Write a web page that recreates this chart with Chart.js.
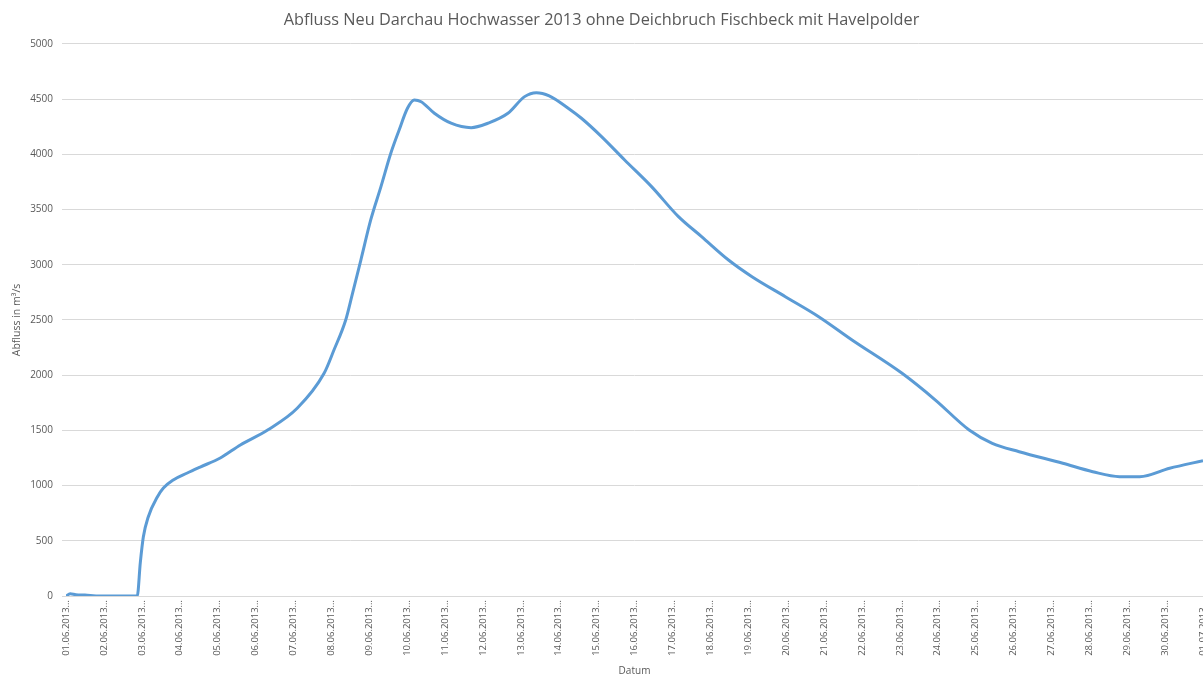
<!DOCTYPE html>
<html>
<head>
<meta charset="utf-8">
<script src="https://cdn.jsdelivr.net/npm/chart.js@4"></script>
<style>
    html, body { margin: 0; padding: 0; background: #fff; }
    #wrap { width: 1203px; height: 677px; }
</style>
</head>
<body>
<div id="wrap"><canvas id="abflussChart" width="1203" height="677"></canvas></div>
<script>
// Datumsbeschriftungen der x-Achse (ein Eintrag pro Tag)
const dateLabels = [
    '01.06.2013', '02.06.2013', '03.06.2013', '04.06.2013', '05.06.2013', '06.06.2013',
    '07.06.2013', '08.06.2013', '09.06.2013', '10.06.2013', '11.06.2013', '12.06.2013',
    '13.06.2013', '14.06.2013', '15.06.2013', '16.06.2013', '17.06.2013', '18.06.2013',
    '19.06.2013', '20.06.2013', '21.06.2013', '22.06.2013', '23.06.2013', '24.06.2013',
    '25.06.2013', '26.06.2013', '27.06.2013', '28.06.2013', '29.06.2013', '30.06.2013',
    '01.07.2013'
];

// Zeitpunkt in Tagen ab 01.06.2013 00:00
const dayOffsets = [
    0, 0.11, 0.26, 0.5, 0.9, 1.88, 1.96, 2.04, 2.17, 2.41, 2.57, 2.83,
    3.2, 3.54, 4.07, 4.6, 5.32, 6.1, 6.81, 7.07, 7.38, 7.56, 7.78, 8.04,
    8.31, 8.57, 8.79, 9.01, 9.19, 9.37, 9.72, 10.16, 10.69, 11.13, 11.66, 12.1,
    12.41, 12.75, 13.25, 13.6, 14.13, 14.74, 15.45, 16.16, 16.77, 17.48, 18.1, 18.98,
    19.86, 20.74, 22.06, 22.94, 23.83, 24.44, 25.15, 26.3, 27.09, 27.8, 28.33, 29.12,
    30
];

// Abfluss in m³/s
const discharge = [
    0, 20, 12, 8, 0, 0, 300, 534, 716, 897, 978, 1051,
    1114, 1168, 1250, 1368, 1504, 1700, 2017, 2228, 2500, 2742, 3043, 3406,
    3708, 4010, 4221, 4418, 4493, 4477, 4372, 4282, 4242, 4282, 4372, 4523,
    4559, 4530, 4418, 4327, 4161, 3949, 3708, 3436, 3255, 3043, 2892, 2711,
    2530, 2319, 2017, 1775, 1504, 1383, 1307, 1202, 1126, 1081, 1081, 1157,
    1226
];

const textColor = '#595959';
const gridColor = '#d9d9d9';
const fontFamily = '"Open Sans", "DejaVu Sans", sans-serif';

const ctx = document.getElementById('abflussChart').getContext('2d');

new Chart(ctx, {
    type: 'line',
    data: {
        datasets: [{
            label: 'Abfluss',
            data: dayOffsets.map((d, i) => ({ x: d, y: discharge[i] })),
            borderColor: '#5b9bd5',
            borderWidth: 3,
            pointRadius: 0,
            cubicInterpolationMode: 'monotone',
            fill: false
        }]
    },
    options: {
        responsive: false,
        animation: false,
        layout: {
            padding: { left: 0, right: 0, top: 0, bottom: 0 }
        },
        plugins: {
            legend: { display: false },
            tooltip: { enabled: false },
            title: {
                display: true,
                text: 'Abfluss Neu Darchau Hochwasser 2013 ohne Deichbruch Fischbeck mit Havelpolder',
                color: textColor,
                font: { family: fontFamily, size: 16.3, weight: 'normal' },
                padding: { top: 10.2, bottom: 14.2 }
            }
        },
        scales: {
            x: {
                type: 'linear',
                min: 0,
                max: 30,
                afterFit(scale) {
                    scale.height = 81;
                    scale.paddingLeft = 0;
                    scale.paddingRight = 0;
                },
                afterBuildTicks(scale) {
                    scale.ticks = dateLabels.map((_, i) => ({ value: i }));
                },
                ticks: {
                    autoSkip: false,
                    maxRotation: 90,
                    minRotation: 90,
                    padding: 4,
                    color: textColor,
                    font: { family: fontFamily, size: 9.5 },
                    callback: (value) => dateLabels[value] + '…'
                },
                grid: {
                    display: false,
                    drawTicks: false
                },
                border: {
                    display: true,
                    color: gridColor,
                    width: 1
                },
                title: {
                    display: true,
                    text: 'Datum',
                    color: textColor,
                    font: { family: fontFamily, size: 10 },
                    padding: { top: 0, bottom: 0 }
                }
            },
            y: {
                min: 0,
                max: 5000,
                afterFit(scale) {
                    scale.width = 66;
                    scale.paddingTop = 0;
                    scale.paddingBottom = 0;
                },
                ticks: {
                    stepSize: 500,
                    padding: 9,
                    color: textColor,
                    font: { family: fontFamily, size: 10 },
                    callback: (value) => String(value)
                },
                grid: {
                    color: gridColor,
                    lineWidth: 1,
                    tickLength: 4
                },
                border: { display: false },
                title: {
                    display: true,
                    text: 'Abfluss in m³/s',
                    color: textColor,
                    font: { family: fontFamily, size: 10.5 },
                    padding: { top: 11, bottom: 0 }
                }
            }
        }
    }
});
</script>
</body>
</html>
